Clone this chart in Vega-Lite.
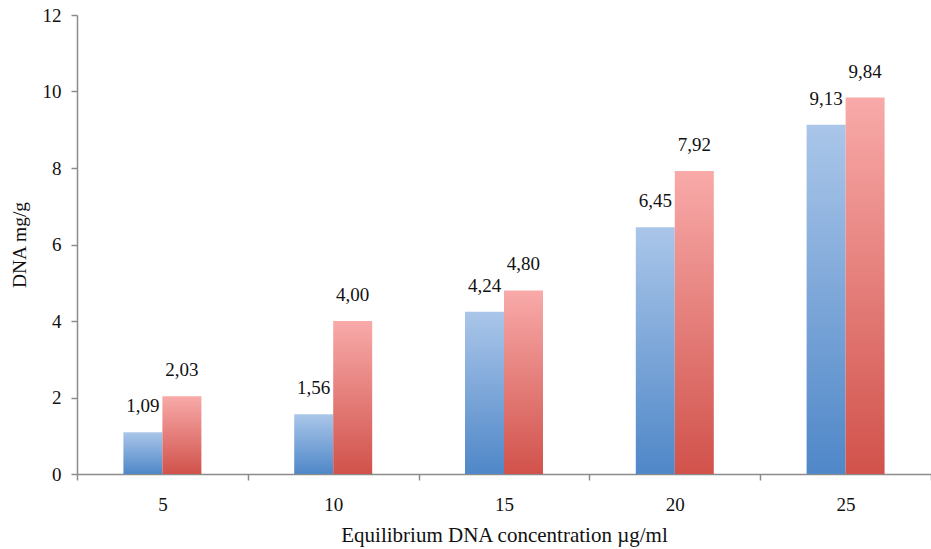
{
  "$schema": "https://vega.github.io/schema/vega-lite/v6.json",
  "autosize": {"type": "none"},
  "padding": {"left": 77, "top": 15, "right": 0, "bottom": 75},
  "width": 854,
  "height": 459,
  "background": "white",
  "config": {
    "view": {"stroke": null},
    "font": "Liberation Serif",
    "locale": {"number": {"decimal": ",", "thousands": ".", "grouping": [3], "currency": ["", " €"]}},
    "axis": {"labelFont": "Liberation Serif", "titleFont": "Liberation Serif", "labelFontSize": 19, "titleFontSize": 19.5, "titleFontWeight": "normal", "labelColor": "#111", "titleColor": "#111", "domainColor": "#8c8c8c", "tickColor": "#8c8c8c", "domainWidth": 1.5, "tickWidth": 1.5, "grid": false}
  },
  "data": {"values": [
    {"conc": "5", "series": "Series 1", "value": 1.09},
    {"conc": "5", "series": "Series 2", "value": 2.03},
    {"conc": "10", "series": "Series 1", "value": 1.56},
    {"conc": "10", "series": "Series 2", "value": 4.00},
    {"conc": "15", "series": "Series 1", "value": 4.24},
    {"conc": "15", "series": "Series 2", "value": 4.80},
    {"conc": "20", "series": "Series 1", "value": 6.45},
    {"conc": "20", "series": "Series 2", "value": 7.92},
    {"conc": "25", "series": "Series 1", "value": 9.13},
    {"conc": "25", "series": "Series 2", "value": 9.84}
  ]},
  "encoding": {
    "x": {"field": "conc", "type": "ordinal", "sort": ["5", "10", "15", "20", "25"],
      "scale": {"paddingInner": 0, "paddingOuter": 0},
      "axis": {"title": "Equilibrium DNA concentration µg/ml", "titleFontSize": 21, "labelAngle": 0, "tickBand": "extent", "tickSize": 6, "labelPadding": 15, "titlePadding": 10}},
    "xOffset": {"field": "series", "type": "nominal", "scale": {"domain": ["_a", "Series 1", "Series 2", "_b"], "paddingInner": 0, "paddingOuter": 0.19}},
    "y": {"field": "value", "type": "quantitative",
      "scale": {"domain": [0, 12], "nice": false},
      "axis": {"title": "DNA mg/g", "values": [0, 2, 4, 6, 8, 10, 12], "tickSize": 6, "labelPadding": 10, "titlePadding": 13}}
  },
  "layer": [
    {
      "transform": [{"filter": "datum.series === 'Series 1'"}],
      "mark": {"type": "bar", "color": {"gradient": "linear", "x1": 0, "y1": 0, "x2": 0, "y2": 1, "stops": [{"offset": 0, "color": "#aac6e9"}, {"offset": 1, "color": "#4f87c8"}]}}
    },
    {
      "transform": [{"filter": "datum.series === 'Series 2'"}],
      "mark": {"type": "bar", "color": {"gradient": "linear", "x1": 0, "y1": 0, "x2": 0, "y2": 1, "stops": [{"offset": 0, "color": "#f8aaa9"}, {"offset": 1, "color": "#d1524b"}]}}
    },
    {
      "mark": {"type": "text", "baseline": "bottom", "dy": -16, "fontSize": 19, "font": "Liberation Serif", "color": "#111"},
      "encoding": {"text": {"field": "value", "type": "quantitative", "format": ".2f"}}
    }
  ]
}
